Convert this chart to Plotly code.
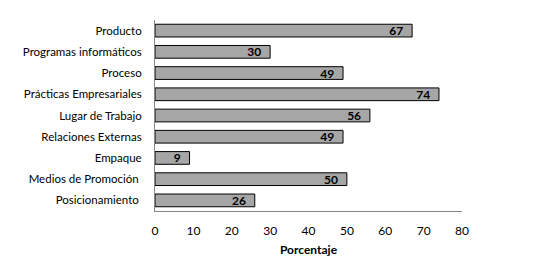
import plotly.graph_objects as go

categories = ["Producto", "Programas informáticos", "Proceso", "Prácticas Empresariales",
              "Lugar de Trabajo", "Relaciones Externas", "Empaque", "Medios de Promoción ",
              "Posicionamiento "]
values = [67, 30, 49, 74, 56, 49, 9, 50, 26]
x_ticks = [0, 10, 20, 30, 40, 50, 60, 70, 80]

fig = go.Figure(go.Bar(
    y=categories, x=values, orientation="h",
    marker=dict(color="#a6a6a6", line=dict(color="#000000", width=1)),
    width=0.6,
    text=[str(v) + "\u00a0\u00a0" for v in values], textposition="inside", insidetextanchor="end",
    textangle=0, constraintext="none",
    textfont=dict(family="Lato", size=12, color="#000000", weight="bold"),
    cliponaxis=False,
))
fig.update_layout(
    width=558, height=270,
    margin=dict(l=147, r=104, t=12, b=67, autoexpand=False),
    paper_bgcolor="white", plot_bgcolor="white",
    showlegend=False,
    font=dict(family="Lato", size=12, color="#000000"),
    bargap=0.4,
)
fig.update_xaxes(range=[0, 80], tickvals=x_ticks, showgrid=False, zeroline=False,
                 showline=True, linecolor="#868686", linewidth=1, ticks="",
                 automargin=False, ticklabelstandoff=9,
                 tickfont=dict(size=12, color="#000000"),
                 title=dict(text="<b>Porcentaje</b>", font=dict(size=12), standoff=8))
fig.update_yaxes(autorange="reversed", showgrid=False, zeroline=False,
                 showline=True, linecolor="#868686", linewidth=1, ticks="",
                 automargin=False, ticklabelstandoff=10,
                 tickfont=dict(size=11.5, color="#000000"))
fig.write_html("out.html")
